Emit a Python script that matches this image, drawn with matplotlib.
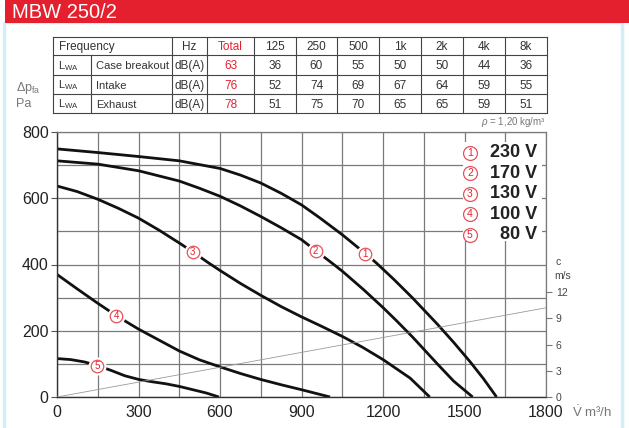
import matplotlib
matplotlib.use("Agg")
import matplotlib.pyplot as plt
from matplotlib.patches import Rectangle

plt.rcParams['font.family'] = ['Liberation Sans', 'DejaVu Sans']
plt.rcParams['mathtext.fontset'] = 'custom'
plt.rcParams['mathtext.rm'] = 'Liberation Sans'
plt.rcParams['mathtext.it'] = 'Liberation Sans:italic'

# Fan curves, pressure (Pa) against air flow (m3/h), one per supply voltage
V1 = [0, 150, 300, 450, 600, 675, 750, 825, 900, 967, 1050, 1135, 1175, 1240, 1310, 1400, 1460, 1520, 1570, 1618]
P1 = [749, 738, 726, 713, 690, 670, 646, 615, 580, 541, 490, 433, 405, 355, 298, 220, 165, 107, 55, 0]
V2 = [0, 150, 300, 450, 525, 600, 675, 750, 825, 900, 952, 1011, 1050, 1130, 1200, 1250, 1310, 1400, 1460, 1530]
P2 = [713, 703, 683, 652, 630, 606, 577, 545, 511, 475, 442, 405, 380, 323, 270, 230, 180, 100, 48, 0]
V3 = [0, 75, 150, 225, 300, 377, 450, 500, 554, 600, 675, 750, 825, 900, 975, 1050, 1125, 1200, 1300, 1372]
P3 = [637, 620, 597, 570, 540, 503, 465, 438, 407, 382, 343, 307, 273, 242, 213, 183, 150, 113, 57, 0]
V4 = [0, 75, 150, 225, 300, 375, 450, 525, 600, 675, 750, 825, 900, 1005]
P4 = [370, 326, 283, 242, 205, 172, 139, 112, 91, 71, 53, 37, 22, 0]
V5 = [0, 50, 100, 149, 200, 250, 301, 350, 400, 450, 500, 550, 596]
P5 = [116, 113, 106, 95, 80, 64, 53, 46, 40, 32, 22, 12, 0]

curves_v = [V1, V2, V3, V4, V5]
curves_p = [P1, P2, P3, P4, P5]
curve_nums = ["1", "2", "3", "4", "5"]
voltages = ["230 V", "170 V", "130 V", "100 V", "80 V"]

# where the curve numbers sit on each line
label_v = [1135, 952, 500, 218, 149]
label_p = [433, 442, 438, 246, 95]

# duct air velocity line (m/s)
vel_flow = [0, 1800]
vel_c = [0, 10.2]

# sound power table
freq_bands = ["125", "250", "500", "1k", "2k", "4k", "8k"]
row_names = ["Case breakout", "Intake", "Exhaust"]
totals = ["63", "76", "78"]
breakout = ["36", "60", "55", "50", "50", "44", "36"]
intake = ["52", "74", "69", "67", "64", "59", "55"]
exhaust = ["51", "75", "70", "65", "65", "59", "51"]
band_values = [breakout, intake, exhaust]

RED = "#e5202e"
PINK = "#e8505b"
GRID = "#7a7a7a"
TXT = "#222222"

fig = plt.figure(figsize=(6.29, 4.28), dpi=100)

# background layer in pixel coordinates for the header, table and side labels
bg = fig.add_axes([0, 0, 1, 1])
bg.set_xlim(0, 629)
bg.set_ylim(428, 0)
bg.axis("off")
bg.set_zorder(-1)

bg.add_patch(Rectangle((4, 22), 618, 410, fill=False, ec="#d4eef8", lw=2.5))
bg.add_patch(Rectangle((5, 0), 624, 23, fc=RED, ec="none"))
bg.text(12, 12, "MBW 250/2", color="white", fontsize=14.5, va="center", ha="left")

# table grid
col_edges = [53, 91, 172, 207, 254, 296, 337, 379, 421, 463, 505, 547]
row_edges = [37, 55, 75, 94, 113]
for y in row_edges:
    bg.plot([col_edges[0], col_edges[-1]], [y, y], color="#444", lw=0.8)
for i, x in enumerate(col_edges):
    y0 = row_edges[1] if i == 1 else row_edges[0]
    bg.plot([x, x], [y0, row_edges[-1]], color="#444", lw=0.8)

tsize = 8.5
mid = lambda a, b: (a + b) / 2
r0 = mid(row_edges[0], row_edges[1]) + 1
bg.text(59, r0, "Frequency", fontsize=tsize, color="#333", va="center")
bg.text(mid(172, 207), r0, "Hz", fontsize=tsize, color="#333", va="center", ha="center")
bg.text(mid(207, 254), r0, "Total", fontsize=tsize, color=RED, va="center", ha="center")
for j, f in enumerate(freq_bands):
    bg.text(mid(col_edges[4 + j], col_edges[5 + j]), r0, f, fontsize=tsize,
            color="#333", va="center", ha="center")
for i, name in enumerate(row_names):
    ry = mid(row_edges[i + 1], row_edges[i + 2]) + 1
    bg.text(58, ry, r"L$_{\mathrm{WA}}$", fontsize=tsize - 0.5, color="#333", va="center")
    bg.text(96, ry, name, fontsize=8, color="#333", va="center")
    bg.text(mid(172, 207), ry, "dB(A)", fontsize=tsize, color="#333", va="center", ha="center")
    bg.text(mid(207, 254), ry, totals[i], fontsize=tsize, color=RED, va="center", ha="center")
    for j, v in enumerate(band_values[i]):
        bg.text(mid(col_edges[4 + j], col_edges[5 + j]), ry, v, fontsize=tsize,
                color="#333", va="center", ha="center")

# axis captions
bg.text(16, 88, r"$\Delta\mathrm{p}_{\mathrm{fa}}$", fontsize=9, color="#777", va="center")
bg.text(16, 104, "Pa", fontsize=9, color="#777", va="center")
bg.text(546, 122, r"$\rho$ = 1,20 kg/m³", fontsize=7, color="#777", ha="right", va="center")
bg.text(556, 262, "c", fontsize=7.5, color="#444", va="center")
bg.text(554, 276, "m/s", fontsize=7.5, color="#444", va="center")
bg.text(572, 412, r"$\mathrm{\dot{V}}$ m³/h", fontsize=9.5, color="#777", va="center")

# main chart
ax = fig.add_axes([57 / 629, 31 / 428, 489 / 629, 265 / 428])
ax.set_xlim(0, 1800)
ax.set_ylim(0, 800)
ax.set_xticks(range(0, 1801, 300))
ax.set_xticks(range(0, 1801, 150), minor=True)
ax.set_yticks(range(0, 801, 200))
ax.set_yticks(range(0, 801, 100), minor=True)
ax.grid(which="both", color=GRID, lw=0.9)
ax.set_axisbelow(True)
ax.tick_params(axis="x", which="both", length=0, pad=6, labelsize=11.5, labelcolor=TXT)
ax.tick_params(axis="y", which="major", length=4, width=0.8, color="#555", pad=2,
               labelsize=11.5, labelcolor=TXT)
ax.tick_params(axis="y", which="minor", length=0)
for side in ["top", "right"]:
    ax.spines[side].set_color(GRID)
    ax.spines[side].set_linewidth(0.9)
for side in ["left", "bottom"]:
    ax.spines[side].set_color("#333")
    ax.spines[side].set_linewidth(1.0)

for v, p in zip(curves_v, curves_p):
    ax.plot(v, p, color="#111", lw=2.0, solid_capstyle="butt", solid_joinstyle="round", zorder=2)

# numbered markers on the curves
for x, y, n in zip(label_v, label_p, curve_nums):
    ax.plot(x, y, "o", ms=13, mfc="white", mec="none", zorder=4)
    ax.plot(x, y, "o", ms=9, mfc="white", mec=PINK, mew=0.9, zorder=5)
    ax.text(x, y, n, fontsize=7, color=RED, ha="center", va="center", zorder=6)

# voltage key
ax.add_patch(Rectangle((1495, 470), 290, 300, fc="white", ec="none", zorder=3))
key_y = [737, 676, 614, 552, 490]
for y, n, volt in zip(key_y, curve_nums, voltages):
    ax.plot(1520, y, "o", ms=10, mfc="white", mec=PINK, mew=0.9, zorder=5)
    ax.text(1520, y, n, fontsize=7.5, color=RED, ha="center", va="center", zorder=6)
    ax.text(1767, y, volt, fontsize=13, fontweight="bold", color=TXT, ha="right", va="center", zorder=6)

# air velocity scale on the right
ax2 = ax.twinx()
ax2.set_ylim(0, 30.3)
ax2.set_yticks([0, 3, 6, 9, 12])
ax2.tick_params(axis="y", length=4, width=0.8, color="#777", pad=3, labelsize=7.5, labelcolor="#444")
for side in ax2.spines:
    ax2.spines[side].set_visible(False)
ax2.plot(vel_flow, vel_c, color="#9a9a9a", lw=0.6, zorder=1)

fig.savefig("out.png", dpi=100)
